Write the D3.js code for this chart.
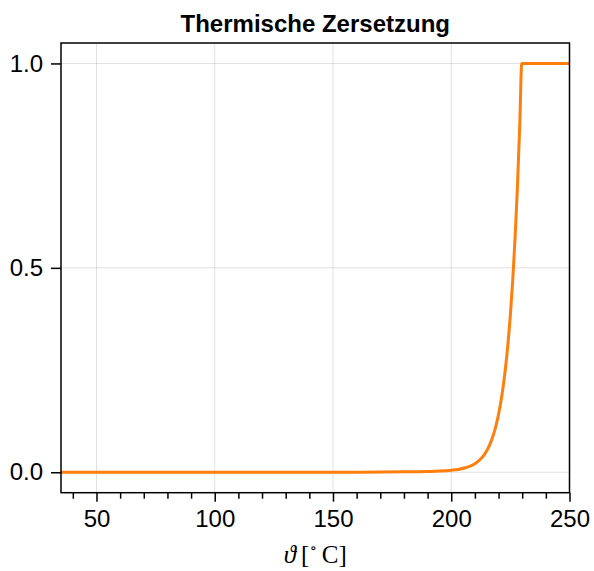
<!DOCTYPE html>
<html>
<head>
<meta charset="utf-8">
<script src="https://cdn.jsdelivr.net/npm/d3@7/dist/d3.min.js"></script>
<style>
  html, body { margin: 0; padding: 0; background: #fff; }
  svg { display: block; }
</style>
</head>
<body>
<svg id="chart" width="594" height="571"></svg>
<script>
// Decomposition fraction vs. temperature
const temperature = [35, 100, 150, 180, 190, 195, 200, 203, 206, 208, 210, 212, 214, 216, 217, 218, 219, 220, 221, 222, 223, 224, 225, 226, 227, 228, 229, 229.8, 250];
const fraction    = [0, 0, 0, 0.001, 0.002, 0.003, 0.005, 0.007, 0.011, 0.015, 0.021, 0.030, 0.043, 0.064, 0.078, 0.095, 0.116, 0.142, 0.173, 0.212, 0.258, 0.316, 0.385, 0.470, 0.575, 0.700, 0.855, 1.0, 1.0];

const xTicks = [50, 100, 150, 200, 250];
const xMinorTicks = [40, 60, 70, 80, 90, 110, 120, 130, 140, 160, 170, 180, 190, 210, 220, 230, 240];
const yTicks = [0, 0.5, 1.0];
const xDomain = [35, 250];
const yDomain = [-0.05, 1.05];
const title = "Thermische Zersetzung";

const svg = d3.select("#chart");
const m = { left: 61, right: 569.5, top: 43, bottom: 492.7 };

const x = d3.scaleLinear().domain(xDomain).range([m.left, m.right]);
const y = d3.scaleLinear().domain(yDomain).range([m.bottom, m.top]);

const sans = "'Liberation Sans', Arial, Helvetica, sans-serif";
const serif = "'Liberation Serif', 'DejaVu Serif', serif";
const gridColor = "rgba(0,0,0,0.12)";

// grid
const grid = svg.append("g");
grid.selectAll("line.vx").data(xTicks).join("line")
  .attr("x1", d => x(d)).attr("x2", d => x(d))
  .attr("y1", m.top).attr("y2", m.bottom)
  .attr("stroke", gridColor).attr("stroke-width", 1);
grid.selectAll("line.hy").data(yTicks).join("line")
  .attr("y1", d => y(d)).attr("y2", d => y(d))
  .attr("x1", m.left).attr("x2", m.right)
  .attr("stroke", gridColor).attr("stroke-width", 1);

// curve
const line = d3.line()
  .x((d, i) => x(temperature[i]))
  .y((d, i) => y(fraction[i]))
  .curve(d3.curveMonotoneX);
svg.append("path")
  .attr("d", line(fraction))
  .attr("fill", "none")
  .attr("stroke", "#ff7f0e")
  .attr("stroke-width", 3)
  .attr("stroke-linejoin", "miter");

// frame
svg.append("rect")
  .attr("x", m.left).attr("y", m.top)
  .attr("width", m.right - m.left).attr("height", m.bottom - m.top)
  .attr("fill", "none").attr("stroke", "#000").attr("stroke-width", 1.5);

// x axis
const xAxis = d3.axisBottom(x).tickValues(xTicks).tickSize(9).tickPadding(8).tickFormat(d3.format("d"));
const gx = svg.append("g").attr("transform", `translate(0,${m.bottom})`).call(xAxis);
gx.select(".domain").remove();
gx.selectAll(".tick line").attr("stroke", "#000").attr("stroke-width", 1.5);
gx.selectAll(".tick text").attr("font-family", sans).attr("font-size", 24).attr("fill", "#000");

const xMinor = d3.axisBottom(x).tickValues(xMinorTicks).tickSize(6).tickFormat("");
const gxm = svg.append("g").attr("transform", `translate(0,${m.bottom})`).call(xMinor);
gxm.select(".domain").remove();
gxm.selectAll(".tick line").attr("stroke", "#000").attr("stroke-width", 1.5);

// y axis
const yAxis = d3.axisLeft(y).tickValues(yTicks).tickSize(10).tickPadding(8).tickFormat(d3.format(".1f"));
const gy = svg.append("g").attr("transform", `translate(${m.left},0)`).call(yAxis);
gy.select(".domain").remove();
gy.selectAll(".tick line").attr("stroke", "#000").attr("stroke-width", 1.5);
gy.selectAll(".tick text").attr("font-family", sans).attr("font-size", 24).attr("fill", "#000");

// title
svg.append("text")
  .attr("x", (m.left + m.right) / 2).attr("y", 32)
  .attr("text-anchor", "middle")
  .attr("font-family", sans).attr("font-weight", "bold").attr("font-size", 24)
  .text(title);

// x label: ϑ [°C]
const xl = svg.append("text")
  .attr("x", (m.left + m.right) / 2).attr("y", 563)
  .attr("text-anchor", "middle")
  .attr("font-family", serif).attr("font-size", 25);
xl.append("tspan").attr("font-style", "italic").text("ϑ");
xl.append("tspan").text("\u2009[");
xl.append("tspan").attr("font-size", 15).attr("dy", -10).text("∘");
xl.append("tspan").attr("dy", 10).text("\u2009C]");
</script>
</body>
</html>
